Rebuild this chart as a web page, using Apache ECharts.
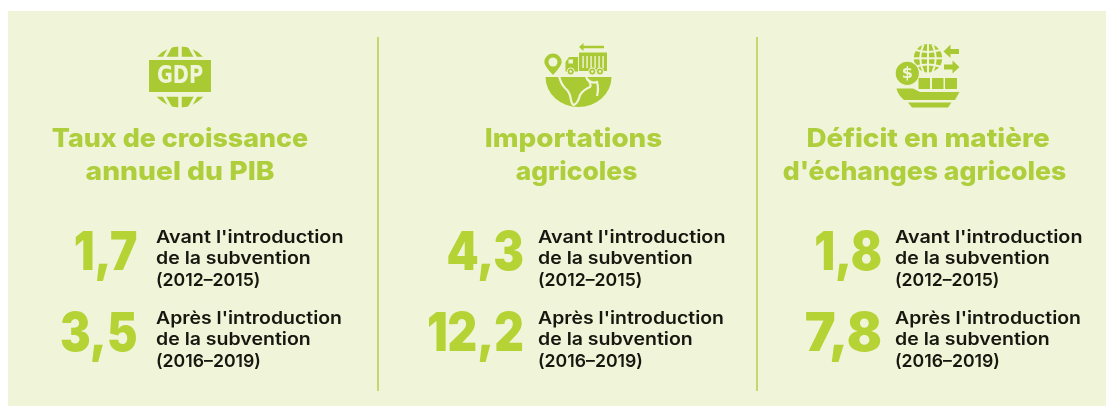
<!DOCTYPE html>
<html><head><meta charset="utf-8">
<style>html,body{margin:0;padding:0;background:#fff}#c{width:1114px;height:406px}</style>
<script src="https://cdn.jsdelivr.net/npm/echarts@6/dist/echarts.min.js"></script></head>
<body><div id="c"></div>
<script>
const titles = [["Taux de croissance","annuel du PIB"],["Importations","agricoles"],["Déficit en matière","d'échanges agricoles"]];
const valuesBefore = ["1,7","4,3","1,8"];
const valuesAfter = ["3,5","12,2","7,8"];
const labelBefore = ["Avant l'introduction","de la subvention","(2012–2015)"];
const labelAfter = ["Après l'introduction","de la subvention","(2016–2019)"];

const BG='#f0f4d9', NUM='#b5d334', TITLE='#afce3c', ICON='#aaca34', RULE='#b4d04a', INK='#17170f';
const FONT='Inter, "Open Sans", sans-serif';
const titleX=[[180,180],[573.5,576.5],[928,924.5]], titleScale=[[1.032,1.086],[1.07,1.015],[1.071,1.022]];
const numX=[137.5,524,882], labX=[156,538,895];
const numScaleBefore=[0.87,0.865,0.87], numScaleAfter=[0.865,0.865,0.98];
const labScaleBefore=[1.13,1.115,1.01], labScaleAfter=[1.11,1.115,1.01];
const el=[];
el.push({type:'rect',shape:{x:8,y:11,width:1098,height:395},style:{fill:BG},silent:true});
[378,757].forEach(x=>el.push({type:'rect',shape:{x:x-0.75,y:37,width:1.5,height:354},style:{fill:RULE}}));
const txt=(x,y,t,size,weight,fill,align,sx)=>({type:'text',x,y,scaleX:sx,style:{text:t,fontFamily:FONT,fontSize:size,fontWeight:weight,fill,align,verticalAlign:'middle'}});
for(let i=0;i<3;i++){
  titles[i].forEach((t,j)=>el.push(txt(titleX[i][j],139.5+j*32.7,t,26,800,TITLE,'center',titleScale[i][j])));
  el.push(txt(numX[i],254,valuesBefore[i],53,900,NUM,'right',numScaleBefore[i]));
  el.push(txt(numX[i],335,valuesAfter[i],53,900,NUM,'right',numScaleAfter[i]));
  labelBefore.forEach((t,j)=>el.push(txt(labX[i],237.5+j*21.4,t,17.5,600,INK,'left',labScaleBefore[j])));
  labelAfter.forEach((t,j)=>el.push(txt(labX[i],318.5+j*21.4,t,17.5,600,INK,'left',labScaleAfter[j])));
}
let pathId=0;
const path=(d,o)=>{const name='iconPath'+(pathId++);
  echarts.graphic.registerShape(name,echarts.graphic.extendPath(d));
  return {type:name,style:Object.assign({fill:ICON},o||{})};};
const line=(d,w,c)=>path(d,{fill:'none',stroke:c||BG,lineWidth:w});
const circ=(cx,cy,r,o)=>({type:'circle',shape:{cx,cy,r},style:Object.assign({fill:ICON},o||{})});
const rect=(x,y,width,height,o)=>({type:'rect',shape:{x,y,width,height},style:Object.assign({fill:ICON},o||{})});
// GDP icon
el.push(circ(180,77,30.5));
el.push(line('M180 44V110',3.5));
el.push(line('M172 44L163 60M163 94L172 110',3));
el.push(line('M188 44L197 60M197 94L188 110',3));
el.push(rect(140,56.7,80,40,{fill:BG}));
el.push(rect(149,60,62,32));
el.push({type:'text',x:180,y:76.5,scaleX:0.86,style:{text:'GDP',fontFamily:'"DejaVu Sans Condensed","DejaVu Sans",sans-serif',fontWeight:700,fontSize:25,fill:BG,align:'center',verticalAlign:'middle'}});
// Import icon
el.push(path('M545.5 77H611.5A33 30 0 0 1 545.5 77Z'));
el.push(line('M559 76Q561 84 565 88Q570 92 571 100Q572 105 574 105Q578 103 580 95Q583 90 590 87Q592 84 587 79L586 76',2.2));
el.push(line('M587 79Q592 84 597 82Q599 88 597 96',2.2));
el.push(path('M553 53.5A8.7 8.7 0 0 1 561.7 62Q561.7 66 553 75Q544.3 66 544.3 62A8.7 8.7 0 0 1 553 53.5Z'));
el.push(circ(553,62,4.5,{fill:BG}));
el.push(rect(579,52.5,28,18.5));
[583,587,591,595,599,603].forEach(x=>el.push(rect(x-0.6,56,1.4,12,{fill:BG})));
el.push(path('M565.5 71.5V62L569 57H578V71.5Z'));
el.push(rect(568.5,59.5,4.5,4,{fill:BG}));
[570.7,592.3,600].forEach(x=>{el.push(circ(x,71.5,3.6,{stroke:BG,lineWidth:1}));el.push(circ(x,71.5,1.2,{fill:BG}));});
el.push(path('M583.5 45.8H604V48.2H583.5V51L579 47L583.5 43Z'));
// Ship icon
el.push(circ(928,58.3,14.2));
el.push(line('M928 43V74',2));
el.push(line('M913 58.3H943',2));
el.push(line('M923.5 44.5Q917 58 923.5 72.5',2));
el.push(line('M932.5 44.5Q939 58 932.5 72.5',2));
el.push(line('M916 50Q928 54 940 50',2));
el.push(line('M916 66.5Q928 62.5 940 66.5',2));
el.push(path('M943.5 51.5L950.5 44.5V49H959V54H950.5V58Z'));
el.push(path('M959.5 67L952.5 60.5V64.5H944V69.5H952.5V73.5Z'));
el.push(circ(907.3,73.3,12.2,{stroke:BG,lineWidth:1.2}));
el.push({type:'text',x:907.3,y:73.8,style:{text:'$',fontFamily:'"DejaVu Sans",sans-serif',fontWeight:700,fontSize:16,fill:BG,align:'center',verticalAlign:'middle'}});
[[918.5,11.5],[932,11.5],[945,12]].forEach(a=>el.push(rect(a[0],78,a[1],11)));
el.push(path('M896.5 88.5H913L920 92H959.5L955 100H904Q898 95 896.5 88.5Z'));
el.push(path('M908 102.5H951.5L948 107.5H912Z'));
const chart=echarts.init(document.getElementById('c'),null,{renderer:'canvas'});
chart.setOption({animation:false,backgroundColor:'#fff',graphic:{elements:el}});
</script></body></html>
